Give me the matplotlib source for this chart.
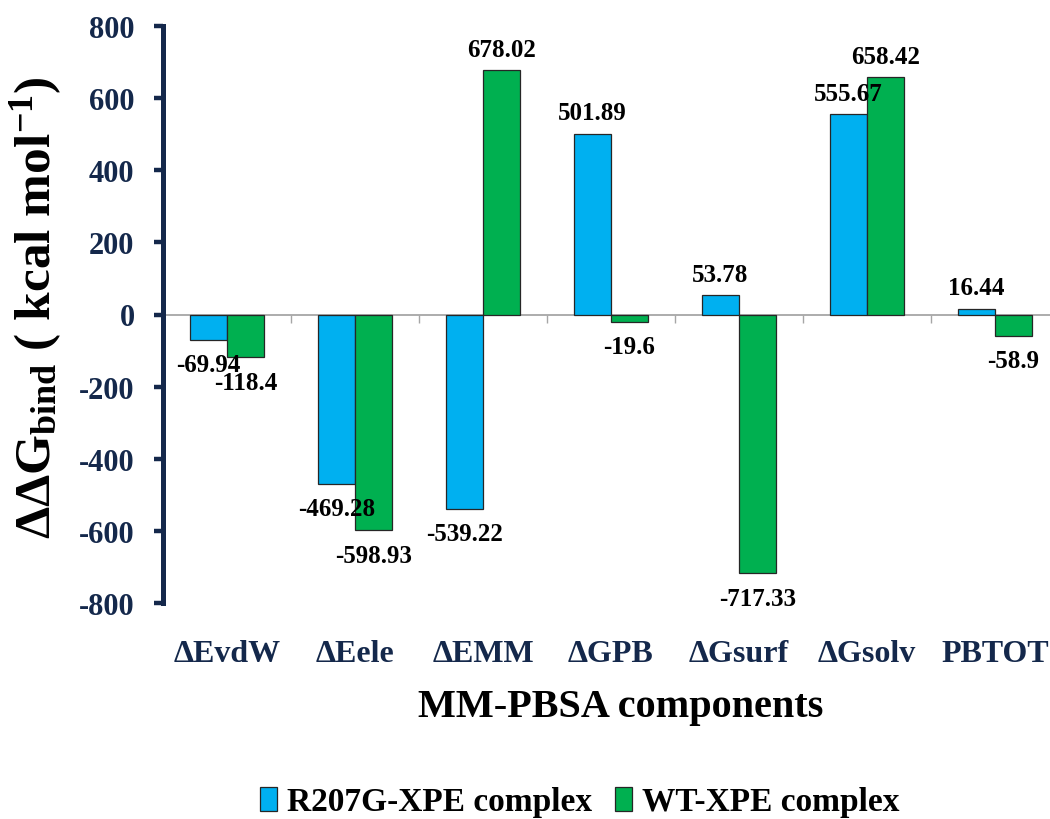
import matplotlib
matplotlib.use("Agg")
import matplotlib.pyplot as plt
import matplotlib.transforms as mtransforms
import numpy as np

# MM-PBSA binding free energy components (kcal/mol)
categories = ["\u0394EvdW", "\u0394Eele", "\u0394EMM", "\u0394GPB", "\u0394Gsurf", "\u0394Gsolv", "PBTOT"]
r207g_values = [-69.94, -469.28, -539.22, 501.89, 53.78, 555.67, 16.44]
wt_values = [-118.4, -598.93, 678.02, -19.6, -717.33, 658.42, -58.9]
r207g_labels = ["-69.94", "-469.28", "-539.22", "501.89", "53.78", "555.67", "16.44"]
wt_labels = ["-118.4", "-598.93", "678.02", "-19.6", "-717.33", "658.42", "-58.9"]
series_names = ["R207G-XPE complex", "WT-XPE complex"]
yticks = [-800, -600, -400, -200, 0, 200, 400, 600, 800]

plt.rcParams["font.family"] = ["Liberation Serif", "DejaVu Serif"]
plt.rcParams["font.weight"] = "bold"
plt.rcParams["mathtext.fontset"] = "custom"
plt.rcParams["mathtext.rm"] = "Liberation Serif:bold"
plt.rcParams["mathtext.bf"] = "Liberation Serif:bold"
plt.rcParams["mathtext.it"] = "Liberation Serif:bold"

NAVY = "#14284B"
BLUE = "#00B0F0"
GREEN = "#00B050"
GRAY = "#A6A6A6"

fig = plt.figure(figsize=(10.5, 8.2), dpi=100)
ax = fig.add_axes([163 / 1050, 1 - 604 / 820, 896 / 1050, 577 / 820])

x = np.arange(len(categories)) + 0.5
w = 0.29
b1 = ax.bar(x - w / 2, r207g_values, w, color=BLUE, edgecolor="#262626",
            linewidth=0.9, label=series_names[0], zorder=3)
b2 = ax.bar(x + w / 2, wt_values, w, color=GREEN, edgecolor="#262626",
            linewidth=0.9, label=series_names[1], zorder=3)

# value labels just beyond the end of each bar
for bars, labels in ((b1, r207g_labels), (b2, wt_labels)):
    for rect, lab in zip(bars, labels):
        v = rect.get_height()
        cx = rect.get_x() + rect.get_width() / 2
        off = 15 if v >= 0 else -18
        ax.annotate(lab, (cx, v), xytext=(0, off), textcoords="offset points",
                    ha="center", va="center", fontsize=18, fontweight="bold",
                    color="black", zorder=5)

ax.set_xlim(0, len(categories))
ax.set_ylim(-800, 800)
ax.set_yticks(yticks)
ax.set_yticklabels([str(t) for t in yticks])

for s in ("top", "right"):
    ax.spines[s].set_visible(False)
ax.spines["left"].set_color(NAVY)
ax.spines["left"].set_linewidth(3.6)
ax.spines["bottom"].set_position(("data", 0))
ax.spines["bottom"].set_color(GRAY)
ax.spines["bottom"].set_linewidth(1.3)
ax.spines["bottom"].set_zorder(2)

ax.tick_params(axis="y", direction="out", length=6.5, width=3.2, color=NAVY,
               labelcolor=NAVY, labelsize=22, pad=14)
ax.set_xticks(np.arange(len(categories) + 1))
ax.tick_params(axis="x", direction="out", length=6, width=1.0, color=GRAY,
               labelbottom=False)

# category names below the plotting area
trans = mtransforms.blended_transform_factory(ax.transData, ax.transAxes)
for xi, name in zip(x, categories):
    ax.text(xi, -0.088, name, transform=trans, ha="center", va="center",
            fontsize=23, fontweight="bold", color=NAVY)

fig.text(621 / 1050, 1 - 708 / 820, "MM-PBSA components", ha="center", va="center",
         fontsize=29, fontweight="bold", color="black")

fig.text(36 / 1050, 1 - 308 / 820,
         "\u0394\u0394G$_{\\mathbf{bind}}$ ( kcal mol$^{\\mathbf{-1}}$)",
         rotation=90, ha="center", va="center", fontsize=37, fontweight="bold",
         color="black")

fig.legend(handles=[b1, b2], labels=series_names, loc="center",
           bbox_to_anchor=(580 / 1050, 1 - 803 / 820), ncol=2, frameon=False,
           handlelength=0.5, handleheight=0.7, handletextpad=0.3,
           columnspacing=0.7, prop={"weight": "bold", "size": 24})

fig.savefig("out.png", dpi=100)
